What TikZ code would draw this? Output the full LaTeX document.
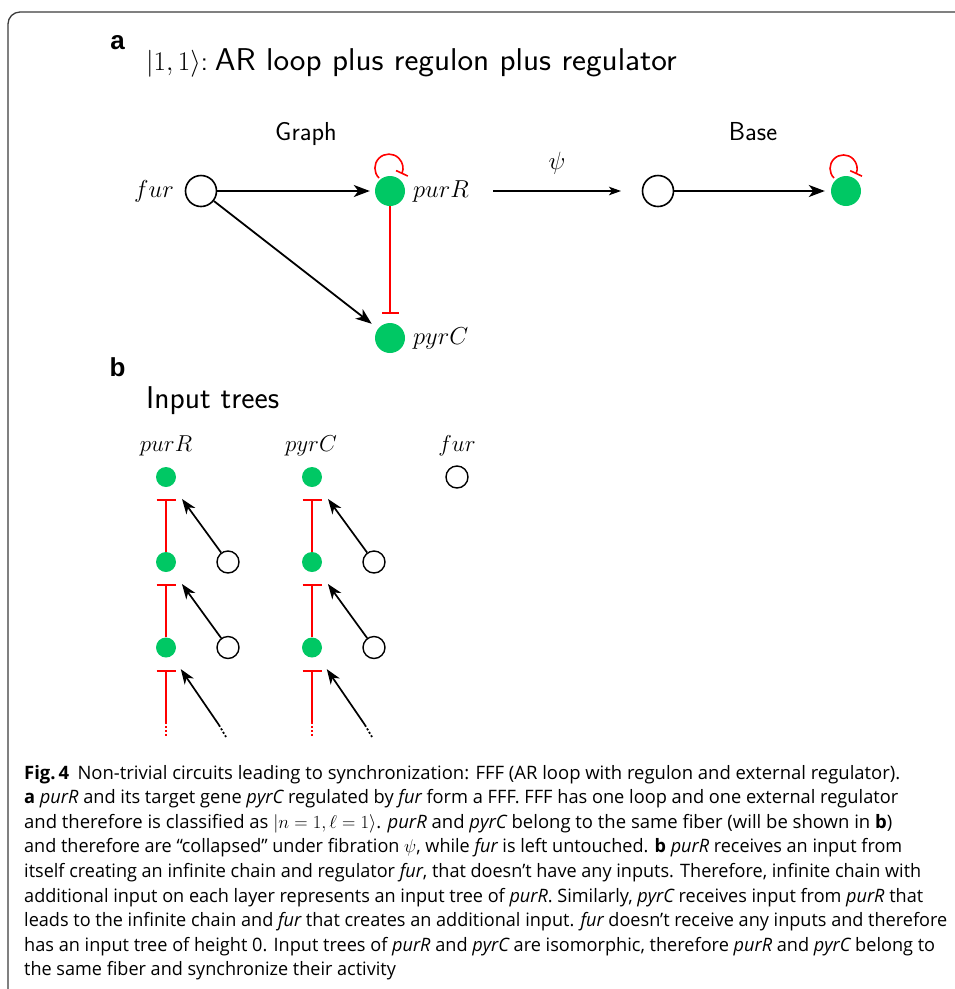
\documentclass[tikz,border=0pt]{standalone}
\usepackage{fix-cm}
\usepackage{fontspec}
\usetikzlibrary{arrows.meta}
\newfontfamily\capfont{Open Sans}
\newfontfamily\panelfont{Liberation Sans}
\definecolor{genegreen}{RGB}{0,200,100}
\definecolor{inhred}{RGB}{255,0,0}
\definecolor{framegray}{RGB}{60,60,60}
\newlength\capwd
\newcommand\captext[1]{\fontsize{18.5}{22}\selectfont\capfont #1}
% one caption line, stretched to a given width (in pt)
\newcommand\capfit[2]{\resizebox{#1pt}{\height}{\captext{#2}}}

\begin{document}
\settowidth\capwd{\captext{itself creating an infinite chain and regulator {\itshape fur}, that doesn’t have any inputs. Therefore, infinite chain with}}%
\pgfmathsetmacro\capsx{897/\capwd}%
\begin{tikzpicture}[x=1pt,y=-1pt,
  opennode/.style={circle,draw=black,line width=1.6pt,fill=white,minimum size=31pt,inner sep=0pt},
  greennode/.style={circle,fill=genegreen,minimum size=30pt,inner sep=0pt},
  opensmall/.style={circle,draw=black,line width=1.4pt,fill=white,minimum size=22pt,inner sep=0pt},
  greensmall/.style={circle,fill=genegreen,minimum size=20pt,inner sep=0pt},
  act/.style={draw=black,line width=1.8pt,-{Stealth[length=16pt,width=12pt,inset=4.5pt]}},
  actsmall/.style={draw=black,line width=1.7pt,-{Stealth[length=15pt,width=11pt,inset=4.5pt]}},
  inh/.style={draw=inhred,line width=1.8pt,-{Bar[width=17pt,line width=1.8pt]}},
  inhsmall/.style={draw=inhred,line width=1.8pt,-{Bar[width=19pt,line width=1.8pt]}},
  inhloop/.style={draw=inhred,line width=1.6pt,-{Bar[width=13pt,line width=1.6pt]}},
  trail/.style={line width=1.8pt,dash pattern=on 2pt off 2pt},
  genelbl/.style={font=\fontsize{23}{28}\selectfont,inner sep=0pt},
  genelblA/.style={font=\fontsize{24.5}{29}\selectfont,inner sep=0pt},
  headlbl/.style={font=\fontsize{26}{30}\selectfont\sffamily,inner sep=0pt,anchor=base},
  panellbl/.style={font=\fontsize{26}{30}\selectfont\panelfont\bfseries,inner sep=0pt},
  capline/.style={anchor=base west,inner sep=0pt}]

\useasboundingbox (0,0) rectangle (955,989);

% outer frame (open at the right and bottom)
\draw[framegray,line width=1.3pt,rounded corners=12pt] (8,1010) |- (975,12);

% ---------- panel a ----------
\node[panellbl] (pa) at (117.5,43) {a};
\node[anchor=base west,inner sep=0pt] (title) at (146,70)
  {\fontsize{27}{32}\selectfont$|1,1\rangle$\sffamily:\hspace{7pt}\resizebox{462pt}{\height}{\fontsize{31.5}{36}\selectfont\sffamily AR loop plus regulon plus regulator}};

\node[headlbl] (hgraph) at (306,140) {Graph};
\node[headlbl] (hbase) at (753,140) {Base};

\node[opennode] (fur) at (201,191) {};
\node[greennode] (purR) at (390,191) {};
\node[greennode] (pyrC) at (390,338) {};
\node[genelblA,anchor=base east] (lfur) at (174,197) {$fur$};
\node[genelblA,anchor=base west] (lpurR) at (413,197) {$purR$};
\node[genelblA,anchor=base west] (lpyrC) at (413,344) {$pyrC$};

\draw[act,shorten >=5pt] (fur) -- (purR);
\draw[act,shorten >=8pt] (fur) -- (pyrC);
\draw[inh,shorten >=9pt] (purR) -- (pyrC);
\draw[inhloop] (purR.center) ++(-11,-13) arc[start angle=135,end angle=385,radius=14];

% fibration map
\coordinate (psiL) at (493,191);
\coordinate (psiR) at (621,191);
\draw[line width=1.3pt,-{Stealth[length=12pt,width=8.5pt,inset=3pt]}] (psiL) -- (psiR);
\node[font=\fontsize{25}{30}\selectfont,inner sep=0pt] (psi) at (557,163) {$\psi$};

\node[opennode] (bfur) at (658,191) {};
\node[greennode] (bgreen) at (846,191) {};
\draw[act,shorten >=6pt] (bfur) -- (bgreen);
\draw[inhloop] (bgreen.center) ++(-12,-13) arc[start angle=135,end angle=385,radius=13.5];

% ---------- panel b ----------
\node[panellbl] (pb) at (117.5,367) {b};
\node[anchor=base west,inner sep=0pt,font=\fontsize{31.5}{36}\selectfont\sffamily] (itrees) at (146,408) {Input trees};

\node[genelbl,anchor=base] (tpurR) at (166,451) {$purR$};
\node[genelbl,anchor=base] (tpyrC) at (311,451) {$pyrC$};
\node[genelbl,anchor=base] (tfur) at (457,451) {$fur$};

\node[opensmall] (tfur0) at (457,477) {};

% two identical input trees: chain of self-inputs plus fur at every layer
\foreach \col/\dx in {A/0,B/146}{
  \node[greensmall] (g1\col) at (166+\dx,477) {};
  \node[greensmall] (g2\col) at (166+\dx,562) {};
  \node[greensmall] (g3\col) at (166+\dx,647.5) {};
  \node[opensmall] (o2\col) at (228+\dx,562) {};
  \node[opensmall] (o3\col) at (228+\dx,647.5) {};
  \coordinate (r\col) at (166+\dx,722);
  \coordinate (re\col) at (166+\dx,737);
  \coordinate (k\col) at (219+\dx,725);
  \coordinate (ke\col) at (226+\dx,737);
  \draw[inhsmall,shorten >=12pt] (g2\col) -- (g1\col);
  \draw[inhsmall,shorten >=12pt] (g3\col) -- (g2\col);
  \draw[inhsmall,shorten >=12.5pt] (r\col) -- (g3\col);
  \draw[inhred,trail] (r\col) -- (re\col);
  \draw[actsmall,shorten >=17pt] (o2\col) -- (g1\col);
  \draw[actsmall,shorten >=17pt] (o3\col) -- (g2\col);
  \draw[actsmall,shorten >=16pt] (k\col) -- (g3\col);
  \draw[black,trail] (k\col) -- (ke\col);
}

% ---------- caption ----------
\node[capline] (c1) at (24,779) {\capfit{876}{{\bfseries Fig.\,4}\hspace{0.45em}Non-trivial circuits leading to synchronization: FFF (AR loop with regulon and external regulator).}};
\node[capline] (c2) at (24,803.6) {\capfit{874}{{\bfseries a} {\itshape purR} and its target gene {\itshape pyrC} regulated by {\itshape fur} form a FFF. FFF has one loop and one external regulator}};
\node[capline] (c3) at (24,828.2) {\capfit{868}{and therefore is classified as $|n=1,\ell=1\rangle$. {\itshape purR} and {\itshape pyrC} belong to the same fiber (will be shown in {\bfseries b})}};
\node[capline] (c4) at (24,852.8) {\capfit{878}{and therefore are “collapsed” under fibration $\psi$, while {\itshape fur} is left untouched. {\bfseries b} {\itshape purR} receives an input from}};
\node[capline] (c5) at (24,877.4) {\capfit{897}{itself creating an infinite chain and regulator {\itshape fur}, that doesn’t have any inputs. Therefore, infinite chain with}};
\node[capline] (c6) at (24,902) {\capfit{899}{additional input on each layer represents an input tree of {\itshape purR}. Similarly, {\itshape pyrC} receives input from {\itshape purR} that}};
\node[capline] (c7) at (24,926.6) {\capfit{923}{leads to the infinite chain and {\itshape fur} that creates an additional input. {\itshape fur} doesn’t receive any inputs and therefore}};
\node[capline] (c8) at (24,951.2) {\capfit{911}{has an input tree of height 0. Input trees of {\itshape purR} and {\itshape pyrC} are isomorphic, therefore {\itshape purR} and {\itshape pyrC} belong to}};
\node[capline] (c9) at (24,975.8) {\scalebox{\capsx}[1]{\captext{the same fiber and synchronize their activity}}};

\end{tikzpicture}
\end{document}
